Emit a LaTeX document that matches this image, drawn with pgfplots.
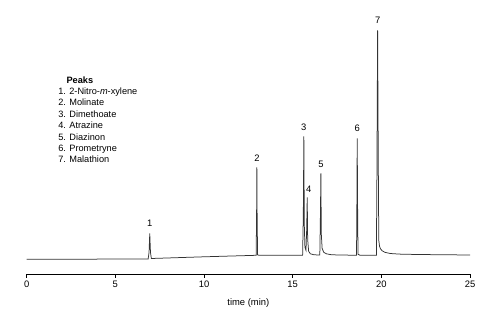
\documentclass[border=0pt]{standalone}
\usepackage{pgfplots}
\pgfplotsset{compat=1.18}
\usepackage{fontspec}
\setmainfont{Liberation Sans}
\begin{document}
\begin{tikzpicture}
\path[use as bounding box] (0,0) rectangle (500pt,326pt);
\begin{axis}[
  at={(26.7pt,51.7pt)}, anchor=south west,
  scale only axis, width=443.3pt, height=254pt,
  xmin=0, xmax=25, ymin=0, ymax=254,
  axis x line=bottom, axis y line=none,
  x axis line style={-, line width=0.9pt, black},
  xtick={0,5,10,15,20,25},
  tick align=outside, major tick length=3.5pt,
  xtick style={line width=0.8pt, black},
  /pgf/number format/assume math mode=true,
  ticklabel style={font=\fontsize{9.4}{10}\selectfont},
  xlabel={time (min)},
  xlabel style={font=\fontsize{9.4}{10}\selectfont, yshift=-4pt},
  clip=false,
]
\addplot[sharp plot, line width=0.75pt, color=black!80] coordinates {
(0,15) (6.85,15.3) (6.90,22) (6.94,41) (6.98,22) (7.03,15.8)
(10,17.5) (12.94,19) (12.965,60) (12.98,107) (12.995,60) (13.02,19.5) (13.1,19)
(15.56,19) (15.60,60) (15.63,138) (15.655,50) (15.69,27) (15.75,24)
(15.79,45) (15.82,77) (15.845,35) (15.9,23) (16.0,20.5) (16.2,19.5)
(16.53,19.3) (16.565,60) (16.59,101) (16.615,40) (16.66,26) (16.75,22) (16.9,20.5) (17.2,19.5)
(18.60,19) (18.62,70) (18.64,136) (18.66,70) (18.685,20) (18.8,19)
(19.72,19) (19.75,100) (19.79,244) (19.825,120) (19.855,34) (19.90,28) (19.95,25.5)
(20.05,23.5) (20.2,22) (20.5,20.8) (21.0,20.2) (22.0,19.8) (25.0,19.3)
};
\begin{scope}[every node/.style={font=\fontsize{9.4}{10}\selectfont, inner sep=0pt}]
\node at (axis cs:6.94,51) {1};
\node at (axis cs:12.98,116.5) {2};
\node at (axis cs:15.63,147) {3};
\node at (axis cs:15.90,85) {4};
\node at (axis cs:16.59,110) {5};
\node at (axis cs:18.64,146) {6};
\node at (axis cs:19.80,254) {7};
\end{scope}
\node[anchor=north west, inner sep=0pt, font=\fontsize{9.2}{11.4}\selectfont, align=left]
  at (axis cs:1.77,198) {\hspace*{0.9em}\textbf{Peaks}\\1. 2-Nitro-\textit{m}-xylene\\2. Molinate\\3. Dimethoate\\4. Atrazine\\5. Diazinon\\6. Prometryne\\7. Malathion};
\end{axis}
\end{tikzpicture}
\end{document}
